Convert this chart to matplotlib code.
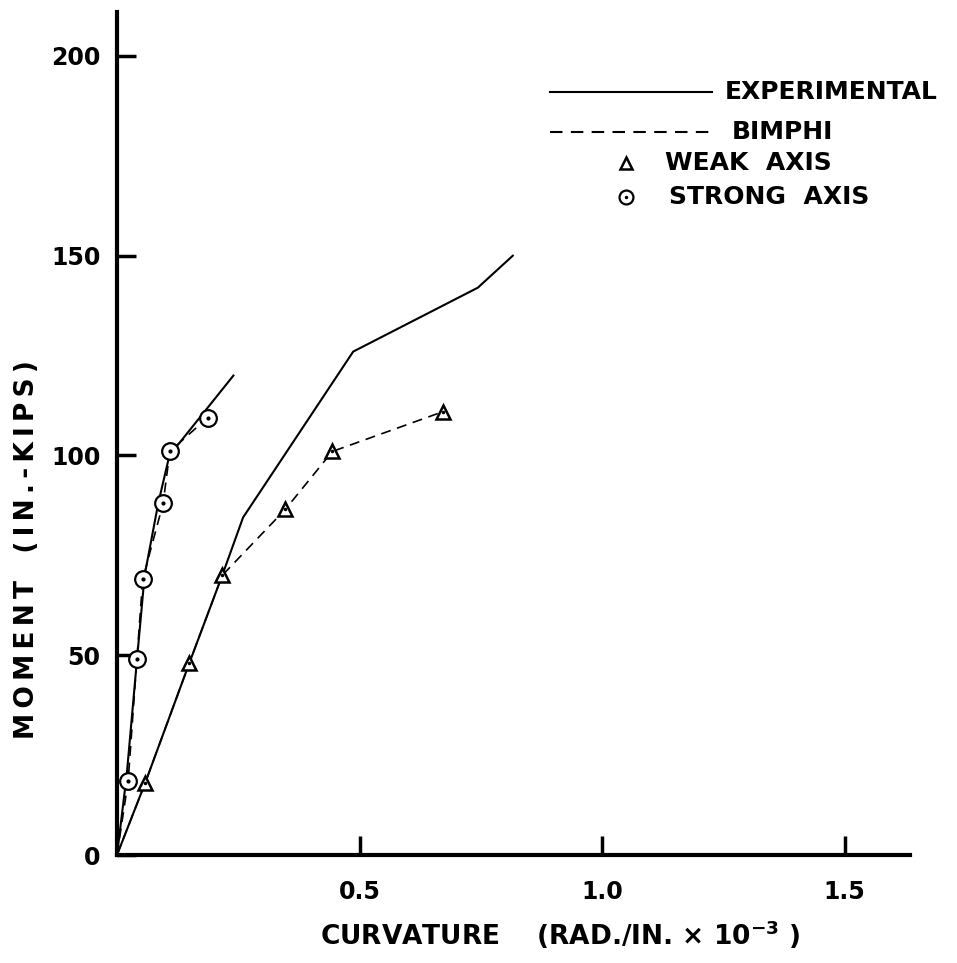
import matplotlib
matplotlib.use("Agg")
import matplotlib.pyplot as plt
from matplotlib.lines import Line2D

# curvature (rad/in x 1e-3) and moment (in.-kips)
strong_exp_x = [0, 0.020, 0.042, 0.057, 0.085, 0.108, 0.240]
strong_exp_m = [0, 20, 50, 70, 88, 100, 120]

strong_bim_x = [0, 0.023, 0.041, 0.053, 0.095, 0.109, 0.187]
strong_bim_m = [0, 18.5, 49, 69, 88, 101, 109.5]

weak_exp_x = [0, 0.058, 0.149, 0.217, 0.260, 0.487, 0.744, 0.816]
weak_exp_m = [0, 18, 48, 70, 84.5, 126, 142, 150]

weak_bim_x = [0, 0.058, 0.149, 0.217, 0.347, 0.444, 0.673]
weak_bim_m = [0, 18, 48, 70, 86.5, 101, 111]

x_ticks = [0.5, 1.0, 1.5]
x_tick_labels = ["0.5", "1.0", "1.5"]
y_ticks = [0, 50, 100, 150, 200]
y_tick_labels = ["0", "50", "100", "150", "200"]

plt.rcParams['font.family'] = ['DejaVu Sans']
plt.rcParams['font.weight'] = 'bold'
plt.rcParams['mathtext.default'] = 'bf'

W, H = 957, 963
fig = plt.figure(figsize=(W / 100, H / 100), dpi=100)
ax = fig.add_axes([117 / W, 1 - 855 / H, (910 - 117) / W, (855 - 12) / H])
ax.set_xlim(0, 1.635)
ax.set_ylim(0, 211)

lw = 1.5
dash = (0, (6, 4))
# experimental curves
ax.plot(strong_exp_x, strong_exp_m, color='black', lw=lw, zorder=2)
ax.plot(weak_exp_x, weak_exp_m, color='black', lw=lw, zorder=2)
# BIMPHI curves
ax.plot(strong_bim_x, strong_bim_m, color='black', lw=1.2, ls=dash, zorder=2)
ax.plot(weak_bim_x, weak_bim_m, color='black', lw=1.2, ls=dash, zorder=2)
# markers (skip origin)
ax.plot(strong_bim_x[1:], strong_bim_m[1:], ls='none', marker='o', ms=12,
        mfc='white', mec='black', mew=1.6, zorder=3)
ax.plot(strong_bim_x[1:], strong_bim_m[1:], ls='none', marker='.', ms=4,
        color='black', zorder=4)
ax.plot(weak_bim_x[1:], weak_bim_m[1:], ls='none', marker='^', ms=10,
        mfc='white', mec='black', mew=1.8, zorder=3)
ax.plot(weak_bim_x[1:], weak_bim_m[1:], ls='none', marker='.', ms=3,
        color='black', zorder=4)

for s in ['top', 'right']:
    ax.spines[s].set_visible(False)
for s in ['left', 'bottom']:
    ax.spines[s].set_linewidth(3)
ax.set_xticks(x_ticks)
ax.set_xticklabels(x_tick_labels)
ax.set_yticks(y_ticks)
ax.set_yticklabels(y_tick_labels)
ax.tick_params(direction='in', length=14, width=2.5, labelsize=17)
ax.tick_params(axis='y', pad=12)
ax.tick_params(axis='x', pad=18)


def spaced(s):
    # hand lettering is loosely spaced
    return "\u2009".join(s)


fig.text(560 / W, 1 - 935 / H, r"CURVATURE    (RAD./IN. $\times$ 10$^{-3}$ )",
         ha='center', va='center', fontsize=19, fontweight='bold')
fig.text(27 / W, 1 - 550 / H, spaced("MOMENT") + "   " + spaced("(IN.-KIPS)"),
         rotation=90, ha='center', va='center', fontsize=19, fontweight='bold')


def fp(x, y):
    return x / W, 1 - y / H


# hand drawn key
fig.add_artist(Line2D([550 / W, 712 / W], [1 - 92 / H] * 2, color='black', lw=1.5))
fig.text(*fp(725, 92), "EXPERIMENTAL", ha='left', va='center', fontsize=18)
fig.add_artist(Line2D([550 / W, 712 / W], [1 - 132 / H] * 2, color='black', lw=1.5, ls=dash))
fig.text(*fp(732, 132), "BIMPHI", ha='left', va='center', fontsize=18)
fig.add_artist(Line2D([626 / W], [1 - 163 / H], marker='^', ms=9, mfc='white',
                      mec='black', mew=1.8, ls='none'))
fig.text(*fp(665, 163), "WEAK  AXIS", ha='left', va='center', fontsize=18)
fig.add_artist(Line2D([626 / W], [1 - 197 / H], marker='o', ms=10, mfc='white',
                      mec='black', mew=1.6, ls='none'))
fig.add_artist(Line2D([626 / W], [1 - 197 / H], marker='.', ms=3, color='black', ls='none'))
fig.text(*fp(669, 197), "STRONG  AXIS", ha='left', va='center', fontsize=18)

fig.savefig("out.png", dpi=100)
